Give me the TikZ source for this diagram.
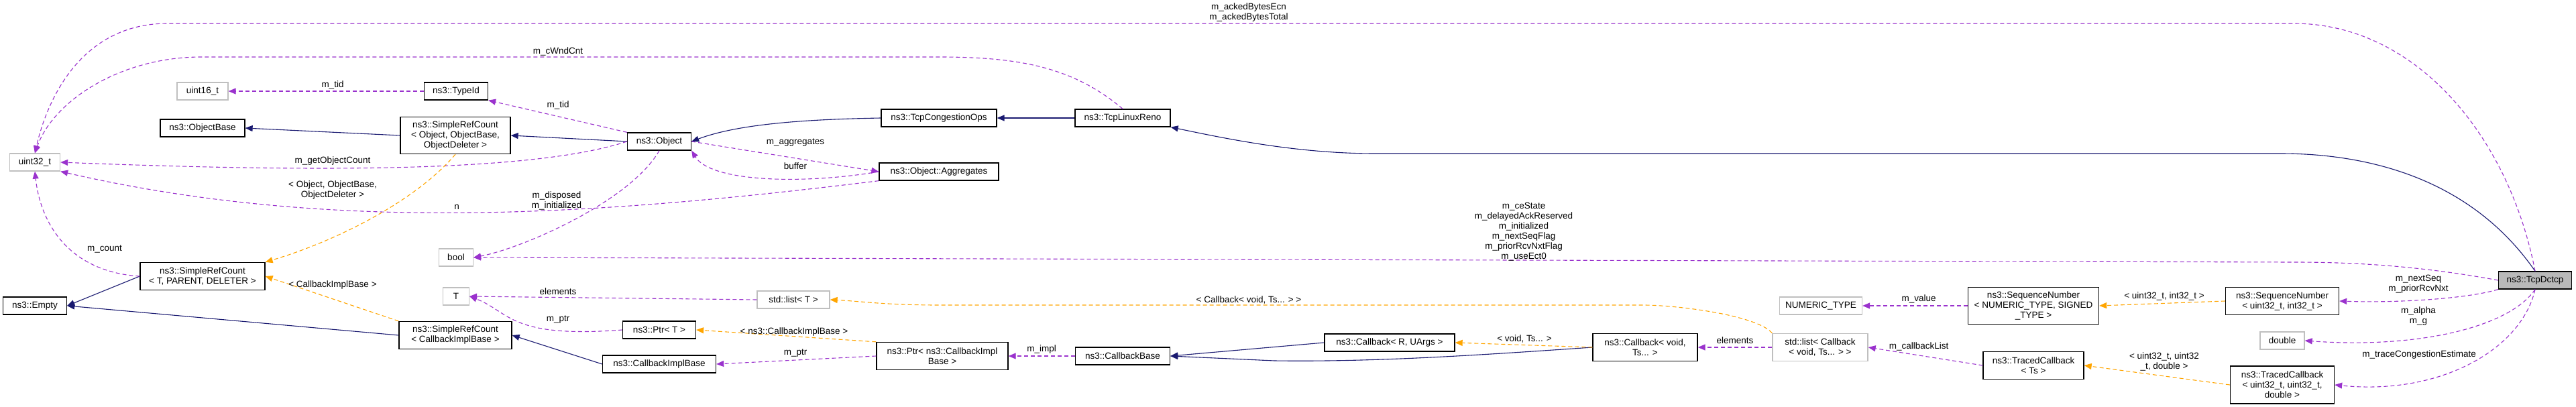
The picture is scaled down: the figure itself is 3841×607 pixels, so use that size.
\documentclass[tikz,border=0pt]{standalone}
\usepackage{fontspec}
\setmainfont{Liberation Sans}
\usetikzlibrary{arrows.meta}
\definecolor{inh}{HTML}{191970}
\definecolor{use}{HTML}{9A32CD}
\definecolor{tpl}{HTML}{FFA500}
\begin{document}
\begin{tikzpicture}[x=1pt, y=-1pt, font=\fontsize{13.5}{15}\selectfont,
  cls/.style={draw=black, fill=white, line width=1.3pt, align=center, inner sep=0pt},
  ext/.style={cls, draw=gray!50},
  cur/.style={cls, fill=gray!55},
  lbl/.style={align=center, inner sep=0pt},
  inherit/.style={draw=inh, line width=1.1pt, -{Triangle[length=11pt,width=9pt]}},
  usage/.style={draw=use, line width=1.1pt, dash pattern=on 6pt off 4pt, -{Triangle[length=11pt,width=9pt]}},
  templ/.style={draw=tpl, line width=1.1pt, dash pattern=on 6pt off 4pt, -{Triangle[length=11pt,width=9pt]}}]
  \useasboundingbox (0,0) rectangle (3841,607);
  % classes
  \node[ext, minimum width=75pt, minimum height=26pt] (u32) at (52,242) {uint32\_t};
  \node[ext, minimum width=76pt, minimum height=26pt] (u16) at (302,136) {uint16\_t};
  \node[cls, minimum width=95pt, minimum height=26pt] (typeid) at (680,136) {ns3::TypeId};
  \node[cls, minimum width=126pt, minimum height=26pt] (objbase) at (302,191) {ns3::ObjectBase};
  \node[cls, minimum width=164pt, minimum height=55pt] (refObj) at (679,202) {ns3::SimpleRefCount\\< Object, ObjectBase,\\ObjectDeleter >};
  \node[cls, minimum width=95pt, minimum height=26pt] (obj) at (983,211) {ns3::Object};
  \node[ext, minimum width=51pt, minimum height=26pt] (bool) at (680,384) {bool};
  \node[cls, minimum width=186pt, minimum height=41pt] (refT) at (302,412) {ns3::SimpleRefCount\\< T, PARENT, DELETER >};
  \node[cls, minimum width=95pt, minimum height=26pt] (empty) at (52,456) {ns3::Empty};
  \node[ext, minimum width=39pt, minimum height=26pt] (T) at (680,442) {T};
  \node[ext, minimum width=108pt, minimum height=26pt] (listT) at (1183,447) {std::list< T >};
  \node[cls, minimum width=109pt, minimum height=26pt] (ptrT) at (983,492) {ns3::Ptr< T >};
  \node[cls, minimum width=168pt, minimum height=41pt] (refCB) at (679,500) {ns3::SimpleRefCount\\< CallbackImplBase >};
  \node[cls, minimum width=169pt, minimum height=26pt] (cbimpl) at (983,543) {ns3::CallbackImplBase};
  \node[cls, minimum width=172pt, minimum height=26pt] (tcpops) at (1400,176) {ns3::TcpCongestionOps};
  \node[cls, minimum width=142pt, minimum height=26pt] (reno) at (1674,176) {ns3::TcpLinuxReno};
  \node[cls, minimum width=178pt, minimum height=26pt] (agg) at (1400,256) {ns3::Object::Aggregates};
  \node[cls, minimum width=196pt, minimum height=41pt] (ptrCB) at (1405,531) {ns3::Ptr< ns3::CallbackImpl\\Base >};
  \node[cls, minimum width=141pt, minimum height=26pt] (cbbase) at (1674,531) {ns3::CallbackBase};
  \node[cls, minimum width=194pt, minimum height=26pt] (cbRU) at (2072,511) {ns3::Callback< R, UArgs >};
  \node[cls, minimum width=156pt, minimum height=41pt] (cbvoid) at (2453,518) {ns3::Callback< void,\\Ts... >};
  \node[ext, minimum width=142pt, minimum height=41pt] (listCB) at (2714,518) {std::list< Callback\\< void, Ts... > >};
  \node[ext, minimum width=123pt, minimum height=26pt] (numeric) at (2715,456) {NUMERIC\_TYPE};
  \node[cls, minimum width=195pt, minimum height=55pt] (seqNT) at (3032,456) {ns3::SequenceNumber\\< NUMERIC\_TYPE, SIGNED\\\_TYPE >};
  \node[cls, minimum width=169pt, minimum height=41pt] (seq32) at (3403,449) {ns3::SequenceNumber\\< uint32\_t, int32\_t >};
  \node[cur, minimum width=109pt, minimum height=26pt] (dctcp) at (3780,418) {ns3::TcpDctcp};
  \node[ext, minimum width=66pt, minimum height=26pt] (double) at (3403,508) {double};
  \node[cls, minimum width=150pt, minimum height=41pt] (tcTs) at (3032,545) {ns3::TracedCallback\\< Ts >};
  \node[cls, minimum width=155pt, minimum height=56pt] (tc32) at (3403,574) {ns3::TracedCallback\\< uint32\_t, uint32\_t,\\double >};

  % inheritance
  \draw[inherit] (refObj.west) -- (objbase.east);
  \draw[inherit] (obj.west) -- (refObj.east);
  \draw[inherit] (tcpops.west) .. controls (1200,178) and (1100,185) .. (obj.east);
  \draw[inherit] (reno.west) -- (tcpops.east);
  \draw[inherit] (dctcp.north) .. controls (3680,260) and (3520,229) .. (3400,229) -- (2050,229) .. controls (1930,229) and (1820,205) .. (reno.south east);
  \draw[inherit] (refT.west) -- (empty.east);
  \draw[inherit] (refCB.west) -- (empty.east);
  \draw[inherit] (cbimpl.west) -- (refCB.east);
  \draw[inherit] (cbRU.west) -- (cbbase.east);
  \draw[inherit] (cbvoid.west) .. controls (2200,530) and (2050,540) .. (1900,538) -- (cbbase.east);

  % usage
  \draw[usage] (typeid.west) -- (u16.east);
  \node[lbl] (l1) at (496,127) {m\_tid};
  \draw[usage] (obj.north west) -- (typeid.south east);
  \node[lbl] (l2) at (832,157) {m\_tid};
  \draw[usage] (obj.west) .. controls (800,255) and (500,258) .. (u32.east);
  \node[lbl] (l3) at (496,240) {m\_getObjectCount};
  \draw[usage] (obj.east) -- (agg.west);
  \node[lbl] (l4) at (1186,213) {m\_aggregates};
  \draw[usage] (agg.west) .. controls (1200,275) and (1060,272) .. (obj.south east);
  \node[lbl] (l5) at (1186,248) {buffer};
  \draw[usage] (agg.south west) .. controls (900,320) and (500,350) .. (u32.south east);
  \node[lbl] (l6) at (681,309) {n};
  \draw[usage] (obj.south) .. controls (940,300) and (780,370) .. (bool.east);
  \node[lbl] (l7) at (830,299) {m\_disposed\\m\_initialized};
  \draw[usage] (refT.west) .. controls (100,405) and (60,330) .. (u32.south);
  \node[lbl] (l8) at (156,371) {m\_count};
  \draw[usage] (reno.north) .. controls (1600,100) and (1520,85) .. (1400,85) -- (300,85) .. controls (180,85) and (80,150) .. (u32.north);
  \node[lbl] (l9) at (832,77) {m\_cWndCnt};
  \draw[usage] (dctcp.north) .. controls (3740,200) and (3600,35) .. (3420,35) -- (250,35) .. controls (120,35) and (70,150) .. (u32.north);
  \node[lbl] (l10) at (1862,19) {m\_ackedBytesEcn\\m\_ackedBytesTotal};
  \draw[usage] (dctcp.west) .. controls (3600,395) and (3500,391) .. (3420,391) -- (bool.east);
  \node[lbl] (l11) at (2272,346) {m\_ceState\\m\_delayedAckReserved\\m\_initialized\\m\_nextSeqFlag\\m\_priorRcvNxtFlag\\m\_useEct0};
  \draw[usage] (listT.west) -- (T.east);
  \node[lbl] (l12) at (832,435) {elements};
  \draw[usage] (ptrT.west) .. controls (760,505) and (760,465) .. (T.east);
  \node[lbl] (l13) at (832,477) {m\_ptr};
  \draw[usage] (ptrCB.west) -- (cbimpl.east);
  \node[lbl] (l14) at (1186,527) {m\_ptr};
  \draw[usage] (cbbase.west) -- (ptrCB.east);
  \node[lbl] (l15) at (1553,521) {m\_impl};
  \draw[usage] (listCB.west) -- (cbvoid.east);
  \node[lbl] (l16) at (2587,508) {elements};
  \draw[usage] (seqNT.west) -- (numeric.east);
  \node[lbl] (l17) at (2861,446) {m\_value};
  \draw[usage] (dctcp.south west) .. controls (3680,445) and (3580,452) .. (seq32.east);
  \node[lbl] (l18) at (3606,424) {m\_nextSeq\\m\_priorRcvNxt};
  \draw[usage] (dctcp.south) .. controls (3740,490) and (3600,520) .. (double.east);
  \node[lbl] (l19) at (3606,472) {m\_alpha\\m\_g};
  \draw[usage] (dctcp.south) .. controls (3760,520) and (3640,590) .. (tc32.east);
  \node[lbl] (l20) at (3607,529) {m\_traceCongestionEstimate};
  \draw[usage] (tcTs.west) -- (listCB.east);
  \node[lbl] (l21) at (2861,517) {m\_callbackList};

  % template instances
  \draw[templ] (refObj.south) .. controls (620,300) and (500,360) .. (refT.north east);
  \node[lbl] (l22) at (496,284) {< Object, ObjectBase,\\ObjectDeleter >};
  \draw[templ] (refCB.north west) -- (refT.east);
  \node[lbl] (l23) at (496,425) {< CallbackImplBase >};
  \draw[templ] (ptrCB.north west) -- (ptrT.east);
  \node[lbl] (l24) at (1184,495) {< ns3::CallbackImplBase >};
  \draw[templ] (listCB.north west) .. controls (2620,470) and (2500,455) .. (2450,455) -- (1400,455) .. controls (1320,455) and (1280,449) .. (listT.east);
  \node[lbl] (l25) at (1862,447) {< Callback< void, Ts... > >};
  \draw[templ] (cbvoid.west) -- (cbRU.east);
  \node[lbl] (l26) at (2273,505) {< void, Ts... >};
  \draw[templ] (seq32.west) -- (seqNT.east);
  \node[lbl] (l27) at (3227,442) {< uint32\_t, int32\_t >};
  \draw[templ] (tc32.west) -- (tcTs.east);
  \node[lbl] (l28) at (3227,539) {< uint32\_t, uint32\\\_t, double >};
\end{tikzpicture}
\end{document}
